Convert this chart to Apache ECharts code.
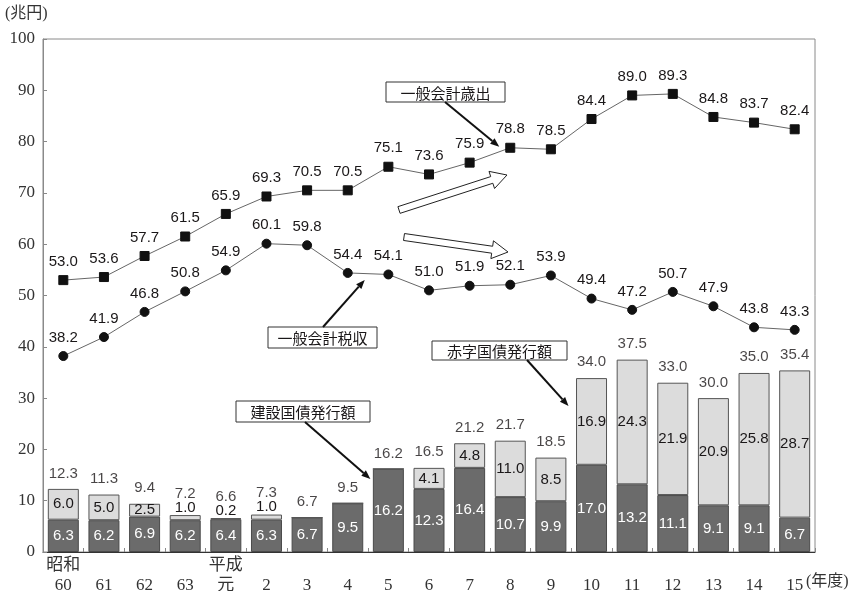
<!DOCTYPE html>
<html>
<head>
<meta charset="utf-8">
<script src="https://cdn.jsdelivr.net/npm/echarts@6/dist/echarts.min.js"></script>
<style>
  html, body { margin: 0; padding: 0; background: #fff; }
  #chart { width: 858px; height: 591px; }
</style>
</head>
<body>
<div id="chart"></div>
<script>
// Fiscal years (Showa 60 – Heisei 15)
const eraLabels  = ['昭和', '', '', '', '平成', '', '', '', '', '', '', '', '', '', '', '', '', '', ''];
const yearLabels = ['60', '61', '62', '63', '元', '2', '3', '4', '5', '6', '7', '8', '9', '10', '11', '12', '13', '14', '15'];

// General account expenditure and tax revenue (trillion yen)
const expenditure = [53.0, 53.6, 57.7, 61.5, 65.9, 69.3, 70.5, 70.5, 75.1, 73.6, 75.9, 78.8, 78.5, 84.4, 89.0, 89.3, 84.8, 83.7, 82.4];
const taxRevenue  = [38.2, 41.9, 46.8, 50.8, 54.9, 60.1, 59.8, 54.4, 54.1, 51.0, 51.9, 52.1, 53.9, 49.4, 47.2, 50.7, 47.9, 43.8, 43.3];

// Bond issuance (trillion yen)
const constructionBonds = [6.3, 6.2, 6.9, 6.2, 6.4, 6.3, 6.7, 9.5, 16.2, 12.3, 16.4, 10.7, 9.9, 17.0, 13.2, 11.1, 9.1, 9.1, 6.7];
const deficitBonds      = [6.0, 5.0, 2.5, 1.0, 0.2, 1.0, 0, 0, 0, 4.1, 4.8, 11.0, 8.5, 16.9, 24.3, 21.9, 20.9, 25.8, 28.7];
const bondTotals        = [12.3, 11.3, 9.4, 7.2, 6.6, 7.3, 6.7, 9.5, 16.2, 16.5, 21.2, 21.7, 18.5, 34.0, 37.5, 33.0, 30.0, 35.0, 35.4];

const yTicks = { min: 0, max: 100, interval: 10 };

const categories = yearLabels.map((y, i) => eraLabels[i] + '\n' + y);

const SANS = '"Liberation Sans", Arial, sans-serif';
const SERIF = '"Liberation Serif", "Noto Sans CJK JP", serif';
const CJK = '"Noto Sans CJK JP", sans-serif';
const TXT = '#1a1718';

const chart = echarts.init(document.getElementById('chart'), null, { renderer: 'canvas' });

const option = {
  animation: false,
  backgroundColor: '#fff',
  grid: { left: 43, right: 43, top: 39, bottom: 39, outerBoundsMode: 'none', containLabel: false,
          show: true, borderColor: '#8a8a8a', borderWidth: 1, backgroundColor: 'transparent' },
  xAxis: {
    type: 'category',
    data: categories,
    axisLine: { lineStyle: { color: '#333', width: 1 } },
    axisTick: { show: true, inside: true, length: 4, lineStyle: { color: '#888' } },
    axisLabel: { interval: 0, fontFamily: SERIF, fontSize: 17, color: '#333', margin: 4, lineHeight: 20 }
  },
  yAxis: {
    type: 'value',
    min: yTicks.min, max: yTicks.max, interval: yTicks.interval,
    splitLine: { show: false },
    axisLine: { show: true, lineStyle: { color: '#8a8a8a' } },
    axisTick: { show: true, inside: true, length: 4, lineStyle: { color: '#888' } },
    axisLabel: { fontFamily: SERIF, fontSize: 17, color: '#333', margin: 8 }
  },
  series: [
    {
      name: '建設国債発行額',
      type: 'bar',
      stack: 'bonds',
      barWidth: 31,
      data: constructionBonds,
      itemStyle: { color: '#6b6b6b', borderColor: '#4a4a4a', borderWidth: 1 },
      label: { show: true, position: 'inside', color: '#fff', fontFamily: SANS, fontSize: 15,
               formatter: p => p.value.toFixed(1) },
      z: 2
    },
    {
      name: '赤字国債発行額',
      type: 'bar',
      stack: 'bonds',
      barWidth: 31,
      data: deficitBonds.map(v => {
        if (v === 0) return { value: v, label: { show: false } };
        if (v < 2) return { value: v, label: { position: 'top', distance: 0 } };
        return v;
      }),
      itemStyle: { color: '#dcdcdc', borderColor: '#555', borderWidth: 1 },
      label: { show: true, position: 'inside', color: TXT, fontFamily: SANS, fontSize: 15,
               formatter: p => p.value.toFixed(1) },
      z: 2
    },
    {
      name: '発行額計',
      type: 'scatter',
      symbolSize: 0,
      data: bondTotals.map((v, i) => {
        const small = deficitBonds[i] > 0 && deficitBonds[i] < 2;
        return { value: [i, v], label: { distance: small ? 14 : 8 } };
      }),
      label: { show: true, position: 'top', color: TXT, fontFamily: SANS, fontSize: 15,
               formatter: p => p.value[1].toFixed(1) },
      z: 3
    },
    {
      name: '一般会計歳出',
      type: 'line',
      data: expenditure,
      symbol: 'rect',
      symbolSize: 9,
      lineStyle: { color: '#666', width: 1 },
      itemStyle: { color: '#111', borderColor: '#111' },
      label: { show: true, position: 'top', distance: 6, color: TXT, fontFamily: SANS, fontSize: 15,
               formatter: p => p.value.toFixed(1) },
      z: 4
    },
    {
      name: '一般会計税収',
      type: 'line',
      data: taxRevenue,
      symbol: 'circle',
      symbolSize: 9,
      lineStyle: { color: '#666', width: 1 },
      itemStyle: { color: '#111', borderColor: '#111' },
      label: { show: true, position: 'top', distance: 6, color: TXT, fontFamily: SANS, fontSize: 15,
               formatter: p => p.value.toFixed(1) },
      z: 4
    }
  ]
};

chart.setOption(option);

// ---- annotations: callout boxes, pointer arrows and trend arrows ----
const px = (i, v) => chart.convertToPixel({ gridIndex: 0 }, [i, v]);

function calloutBox(x, y, w, h, text) {
  return {
    type: 'group', z: 10,
    children: [
      { type: 'rect', shape: { x: x, y: y, width: w, height: h },
        style: { fill: '#fff', stroke: '#333', lineWidth: 1 } },
      { type: 'text', x: x + w / 2, y: y + h / 2 + 1,
        style: { text: text, fontFamily: CJK, fontSize: 15, fill: TXT, align: 'center', verticalAlign: 'middle' } }
    ]
  };
}

function pointer(x1, y1, x2, y2) {
  const dx = x2 - x1, dy = y2 - y1, len = Math.hypot(dx, dy);
  const ux = dx / len, uy = dy / len, nx = -uy, ny = ux;
  const hl = 9, hw = 3.5;
  const bx = x2 - ux * hl, by = y2 - uy * hl;
  return {
    type: 'group', z: 10,
    children: [
      { type: 'line', shape: { x1: x1, y1: y1, x2: bx, y2: by }, style: { stroke: '#111', lineWidth: 2 } },
      { type: 'polygon', shape: { points: [[x2, y2], [bx + nx * hw, by + ny * hw], [bx - nx * hw, by - ny * hw]] },
        style: { fill: '#111' } }
    ]
  };
}

function hollowArrow(x1, y1, x2, y2) {
  const dx = x2 - x1, dy = y2 - y1, len = Math.hypot(dx, dy);
  const ux = dx / len, uy = dy / len, nx = -uy, ny = ux;
  const w = 3.5, hw = 9, hl = 16;
  const bx = x2 - ux * hl, by = y2 - uy * hl;
  return {
    type: 'polygon', z: 10,
    shape: { points: [
      [x1 + nx * w, y1 + ny * w], [bx + nx * w, by + ny * w], [bx + nx * hw, by + ny * hw],
      [x2, y2],
      [bx - nx * hw, by - ny * hw], [bx - nx * w, by - ny * w], [x1 - nx * w, y1 - ny * w]
    ] },
    style: { fill: '#fff', stroke: '#222', lineWidth: 1 }
  };
}

const pExp = px(11, expenditure[11]);
const pTax = px(7, taxRevenue[7]);
const pCon = px(8, constructionBonds[8]);
const pDef = px(13, constructionBonds[13] + deficitBonds[13]);
const barHalf = 16;

chart.setOption({
  graphic: [
    { type: 'text', left: 5, top: 6, z: 10,
      style: { text: '(兆円)', fontFamily: SERIF, fontSize: 16, fill: '#333' } },
    { type: 'text', left: 806, top: 574, z: 10,
      style: { text: '(年度)', fontFamily: SERIF, fontSize: 16, fill: '#333' } },

    calloutBox(386, 82, 119, 20, '一般会計歳出'),
    pointer(445, 102, pExp[0] - 11, pExp[1] - 1),

    calloutBox(268, 327, 109, 21, '一般会計税収'),
    pointer(323, 327, pTax[0] + 17, pTax[1] + 7),

    calloutBox(236, 401, 134, 21, '建設国債発行額'),
    pointer(305, 422, pCon[0] - barHalf - 2, pCon[1] + 10),

    calloutBox(432, 341, 135, 19, '赤字国債発行額'),
    pointer(527, 360, pDef[0] - barHalf - 7, pDef[1] + 28),

    hollowArrow(399, 210, 507, 175),
    hollowArrow(404, 237, 508, 252)
  ]
});
</script>
</body>
</html>
